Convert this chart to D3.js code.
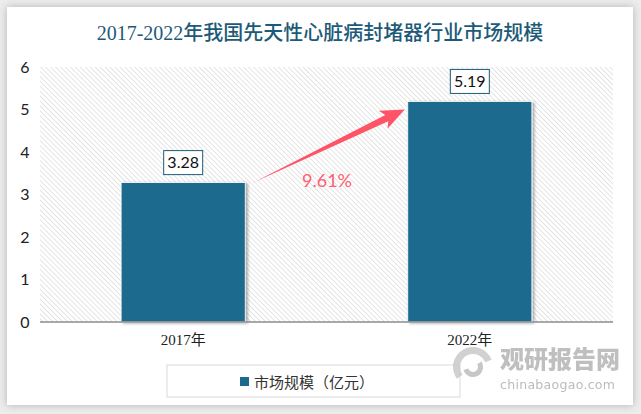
<!DOCTYPE html>
<html>
<head>
<meta charset="utf-8">
<script src="https://cdn.jsdelivr.net/npm/d3@7"></script>
<style>
  body { margin: 0; background: #fff; }
  svg text { font-family: Lato, "Noto Sans CJK SC", sans-serif; }
</style>
</head>
<body>
<svg id="chart"></svg>
<script>
// data
const years = ["2017年", "2022年"];
const marketSize = [3.28, 5.19];
const yTicks = [0, 1, 2, 3, 4, 5, 6];
const growthLabel = "9.61%";
const seriesName = "市场规模（亿元）";
const title = "2017-2022年我国先天性心脏病封堵器行业市场规模";

const W = 641, H = 414;
const margin = { top: 67, right: 28, bottom: 92, left: 40 };
const innerW = W - margin.left - margin.right;
const innerH = H - margin.top - margin.bottom;
const barColor = "#1c6b8e";

const svg = d3.select("#chart").attr("width", W).attr("height", H);
const defs = svg.append("defs");

// card shadow
const cardShadow = defs.append("filter").attr("id", "cardShadow")
  .attr("x", "-5%").attr("y", "-5%").attr("width", "110%").attr("height", "110%");
cardShadow.append("feDropShadow").attr("dx", 0).attr("dy", 0)
  .attr("stdDeviation", 4).attr("flood-color", "#000").attr("flood-opacity", 0.25);

const barShadow = defs.append("filter").attr("id", "barShadow")
  .attr("x", "-10%").attr("y", "-10%").attr("width", "130%").attr("height", "130%");
barShadow.append("feDropShadow").attr("dx", 2).attr("dy", 1)
  .attr("stdDeviation", 1.5).attr("flood-color", "#000").attr("flood-opacity", 0.35);

// hatch pattern
const hatch = defs.append("pattern").attr("id", "hatch")
  .attr("patternUnits", "userSpaceOnUse").attr("width", 3.5).attr("height", 3.5)
  .attr("patternTransform", "rotate(-45)");
hatch.append("rect").attr("width", 3.5).attr("height", 3.5).attr("fill", "#fff");
hatch.append("line").attr("x1", 0).attr("y1", 0).attr("x2", 0).attr("y2", 3.5)
  .attr("stroke", "#d4d4d4").attr("stroke-width", 1.2);

svg.append("rect").attr("width", W).attr("height", H).attr("fill", "#ededed");
svg.append("rect").attr("x", 7).attr("y", 7).attr("width", 626).attr("height", 398)
  .attr("fill", "#fff").attr("filter", "url(#cardShadow)");

// title
svg.append("text")
  .attr("x", 320).attr("y", 40)
  .attr("text-anchor", "middle")
  .attr("fill", "#1d5a78")
  .style("font-family", "'Liberation Serif', 'Noto Sans CJK SC', serif")
  .style("font-size", "20px")
  .style("font-weight", 500)
  .text(title);

const chart = svg.append("g").attr("transform", `translate(${margin.left},${margin.top})`);

// scales
const xScale = d3.scaleBand().domain(years).range([0, innerW])
  .paddingInner(0.567).paddingOuter(0.283);
const yScale = d3.scaleLinear().domain([0, 6]).range([innerH, 0]);

// plot background
chart.append("rect").attr("width", innerW).attr("height", innerH).attr("fill", "url(#hatch)");

// y axis labels
const yAxis = chart.append("g").attr("class", "axis y-axis")
  .attr("transform", "translate(-15,0)")
  .call(d3.axisLeft(yScale).tickValues(yTicks).tickFormat(d3.format("d")).tickSize(0).tickPadding(0));
yAxis.select(".domain").remove();
yAxis.selectAll("text").attr("fill", "#222").style("font-size", "16px")
  .style("font-family", "Lato, sans-serif").attr("text-anchor", "middle");

// bars
chart.selectAll("rect.bar")
  .data(marketSize)
  .join("rect")
    .attr("class", "bar")
    .attr("x", (d, i) => xScale(years[i]))
    .attr("y", d => yScale(d))
    .attr("width", xScale.bandwidth())
    .attr("height", d => innerH - yScale(d))
    .attr("fill", barColor)
    .attr("stroke", "#fff").attr("stroke-width", 0.8)
    .attr("filter", "url(#barShadow)");

// baseline
chart.append("line").attr("x1", 0).attr("x2", innerW)
  .attr("y1", innerH).attr("y2", innerH)
  .attr("stroke", "#8c8c8c").attr("stroke-width", 1.5);

// x axis labels
const xAxis = chart.append("g").attr("class", "axis x-axis")
  .attr("transform", `translate(0,${innerH})`)
  .call(d3.axisBottom(xScale).tickSize(0).tickPadding(12));
xAxis.select(".domain").remove();
xAxis.selectAll("text").attr("fill", "#222").style("font-size", "15px")
  .style("font-family", "'Liberation Serif', 'Noto Sans CJK SC', serif");

// value labels in boxes
const labels = chart.selectAll("g.vlabel")
  .data(marketSize)
  .join("g")
    .attr("class", "vlabel")
    .attr("transform", (d, i) => `translate(${xScale(years[i]) + xScale.bandwidth() / 2},${yScale(d) - 20})`);
labels.append("rect").attr("x", -19.5).attr("y", -12).attr("width", 39).attr("height", 24)
  .attr("fill", "#fff").attr("stroke", "#1d5a78").attr("stroke-width", 1);
labels.append("text").attr("text-anchor", "middle").attr("dy", "0.36em")
  .attr("fill", "#111").style("font-size", "16px").text(d => d.toFixed(2));

// growth arrow
const tail = [xScale(years[0]) + xScale.bandwidth() + 6, yScale(marketSize[0]) + 1];
const tip = [xScale(years[1]) - 3, yScale(marketSize[1]) + 8];
const dx = tip[0] - tail[0], dy = tip[1] - tail[1];
const len = Math.hypot(dx, dy);
const ux = dx / len, uy = dy / len, nx = -uy, ny = ux;
const headLen = 24, shaftW = 3.5, headW = 10, notch = 4;
const bx = tip[0] - ux * headLen, by = tip[1] - uy * headLen;
const cx = bx + ux * notch, cy = by + uy * notch;
const arrowPts = [
  tail,
  [cx + nx * shaftW, cy + ny * shaftW],
  [bx + nx * headW, by + ny * headW],
  tip,
  [bx - nx * headW, by - ny * headW],
  [cx - nx * shaftW, cy - ny * shaftW]
];
chart.append("path").attr("d", d3.line()(arrowPts) + "Z").attr("fill", "#ff5468");

chart.append("text")
  .attr("x", (tail[0] + tip[0]) / 2 - 1).attr("y", 120)
  .attr("text-anchor", "middle").attr("fill", "#ff5f72")
  .style("font-size", "18px").text(growthLabel);

// legend
const legend = svg.append("g").attr("transform", "translate(167,365)");
legend.append("rect").attr("width", 293).attr("height", 32)
  .attr("fill", "#fff").attr("stroke", "#d9d9d9");
legend.append("rect").attr("x", 73).attr("y", 12).attr("width", 9).attr("height", 9).attr("fill", barColor);
legend.append("text").attr("x", 87).attr("y", 22.5).attr("fill", "#333")
  .style("font-family", "'Noto Sans CJK SC', sans-serif").style("font-size", "15px")
  .text(seriesName);

// watermark
const wm = svg.append("g").attr("opacity", 0.85);
const logo = wm.append("g").attr("transform", "translate(473,367)");
logo.append("path").attr("d", d3.arc()({ innerRadius: 13, outerRadius: 20, startAngle: -2.2, endAngle: 1.2 }))
  .attr("fill", "#c9c9c9");
logo.append("path").attr("d", d3.arc()({ innerRadius: 5, outerRadius: 10, startAngle: 1.0, endAngle: 4.4 }))
  .attr("fill", "#bdbdbd");
wm.append("text").attr("x", 500).attr("y", 368).attr("fill", "#b5b5b5")
  .style("font-family", "'Noto Sans CJK SC', sans-serif").style("font-weight", 900)
  .style("font-size", "24px").text("观研报告网");
wm.append("text").attr("x", 500).attr("y", 389).attr("fill", "#b0b0b0")
  .style("font-family", "'DejaVu Sans', sans-serif")
  .style("font-size", "12.5px").style("letter-spacing", "0.3px").text("chinabaogao.com");
</script>
</body>
</html>
